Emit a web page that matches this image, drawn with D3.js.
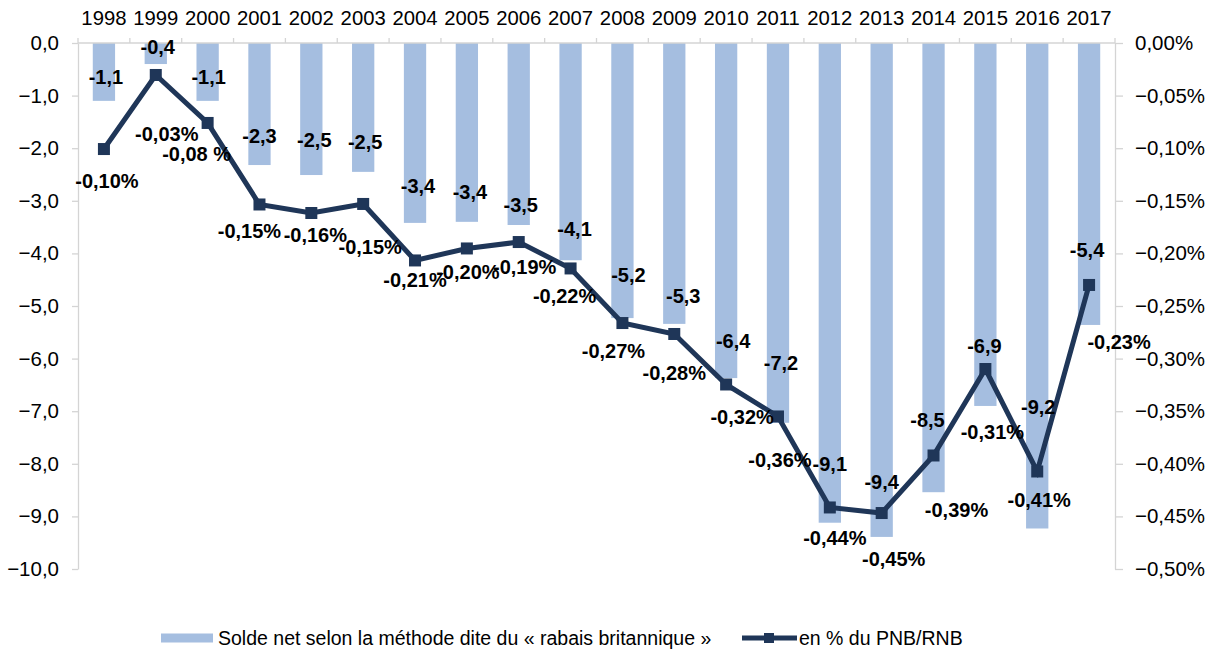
<!DOCTYPE html>
<html>
<head>
<meta charset="utf-8">
<script src="https://cdn.jsdelivr.net/npm/d3@7"></script>
<style>
  body { margin: 0; background: #fff; }
  svg text { font-family: "Liberation Sans", Arial, sans-serif; fill: #000; }
  .domain, .tick line { stroke: #d4d4d4; stroke-width: 1.3; }
</style>
</head>
<body>
<div id="chart"></div>
<script>
// années
const years = ["1998","1999","2000","2001","2002","2003","2004","2005","2006","2007",
               "2008","2009","2010","2011","2012","2013","2014","2015","2016","2017"];
// solde net (Md€)
const solde = [-1.1,-0.4,-1.1,-2.32,-2.51,-2.45,-3.42,-3.4,-3.46,-4.13,
               -5.23,-5.34,-6.37,-7.22,-9.12,-9.39,-8.54,-6.9,-9.23,-5.36];
const soldeLabels = ["-1,1","-0,4","-1,1","-2,3","-2,5","-2,5","-3,4","-3,4","-3,5","-4,1",
                     "-5,2","-5,3","-6,4","-7,2","-9,1","-9,4","-8,5","-6,9","-9,2","-5,4"];
// en % du PNB/RNB (valeurs déjà en points de %)
const pct = [-0.1008,-0.0304,-0.076,-0.1535,-0.1616,-0.153,-0.2067,-0.1953,-0.1892,-0.2143,
             -0.2662,-0.2766,-0.3246,-0.355,-0.4415,-0.4468,-0.3921,-0.3099,-0.4073,-0.23];
const pctLabels = ["-0,10%","-0,03%","-0,08 %","-0,15%","-0,16%","-0,15%","-0,21%","-0,20%","-0,19%","-0,22%",
                   "-0,27%","-0,28%","-0,32%","-0,36%","-0,44%","-0,45%","-0,39%","-0,31%","-0,41%","-0,23%"];
const leftTicks = [0,-1,-2,-3,-4,-5,-6,-7,-8,-9,-10];
const rightTicks = [0,-0.05,-0.1,-0.15,-0.2,-0.25,-0.3,-0.35,-0.4,-0.45,-0.5];
const legendNames = ["Solde net selon la méthode dite du « rabais britannique »", "en % du PNB/RNB"];

// décalages manuels des étiquettes (px), comme dans le graphique Excel
const soldeLabelOffset = [[2,-24],[2,-17],[1,-24],[0,-29],[3,-35],[2,-30],[3,-37],[3,-30],[2,-20],[4,-31],
                          [6,-43],[9,-28],[7,-37],[3,-60],[0,-59],[0,-55],[-6,-72],[-1,-60],[1,-121],[-2,-75]];
const pctLabelOffset = [[3,32],[11,59],[-11,31],[-10,27],[4,22],[7,43],[0,20],[1,24],[6,25],[-6,28],
                        [-9,28],[0,39],[16,33],[2,44],[5,31],[12,46],[23,55],[7,63],[2,29],[30,57]];

const width = 1212, height = 651;
const plotLeft = 78, plotRight = 1115, plotTop = 43, plotBottom = 569;

const svg = d3.select("#chart").append("svg")
    .attr("width", width)
    .attr("height", height);

const loc = d3.formatLocale({decimal: ",", thousands: " ", grouping: [3], currency: ["", "€"]});
const f1 = loc.format(".1f");
const f2 = loc.format(".2f");

const x = d3.scaleBand().domain(years).range([plotLeft, plotRight]).paddingInner(0.57).paddingOuter(0.285);
const yL = d3.scaleLinear().domain([0, -10]).range([plotTop, plotBottom]);
const yR = d3.scaleLinear().domain([0, -0.5]).range([plotTop, plotBottom]);

// barres
svg.append("g")
    .selectAll("rect")
    .data(solde)
    .join("rect")
    .attr("x", (d, i) => x(years[i]))
    .attr("y", yL(0))
    .attr("width", x.bandwidth())
    .attr("height", d => yL(d) - yL(0))
    .attr("fill", "#a5bee0");

// axe gauche
const gL = svg.append("g")
    .attr("transform", `translate(${plotLeft},0)`)
    .call(d3.axisLeft(yL).tickValues(leftTicks).tickSize(6).tickPadding(13)
        .tickFormat(f1).tickSizeOuter(0));
gL.selectAll("text").style("font-size", "20.5px");

// axe droit
const gR = svg.append("g")
    .attr("transform", `translate(${plotRight},0)`)
    .call(d3.axisRight(yR).tickValues(rightTicks).tickSize(8).tickPadding(12)
        .tickFormat(d => f2(d) + "%").tickSizeOuter(0));
gR.selectAll("text").style("font-size", "20.5px");

// axe du haut : ligne + graduations entre catégories
const gT = svg.append("g")
    .attr("transform", `translate(0,${plotTop})`)
    .call(d3.axisTop(x).tickSize(0).tickPadding(18).tickSizeOuter(0));
gT.select(".domain").attr("d", `M${plotLeft},0H${plotRight}`);
gT.selectAll("text").style("font-size", "20.3px");
const step = x.step();
gT.selectAll(".sep")
    .data(d3.range(years.length + 1))
    .join("line")
    .attr("class", "sep")
    .attr("x1", i => plotLeft + i * step)
    .attr("x2", i => plotLeft + i * step)
    .attr("y1", 0)
    .attr("y2", -5)
    .attr("stroke", "#d4d4d4")
    .attr("stroke-width", 1.3);

// ligne %
const cx = i => x(years[i]) + x.bandwidth() / 2;
const line = d3.line().x((d, i) => cx(i)).y(d => yR(d));
svg.append("path")
    .datum(pct)
    .attr("d", line)
    .attr("fill", "none")
    .attr("stroke", "#1f3658")
    .attr("stroke-width", 5)
    .attr("stroke-linejoin", "miter");

svg.append("g")
    .selectAll("rect")
    .data(pct)
    .join("rect")
    .attr("x", (d, i) => cx(i) - 6)
    .attr("y", d => yR(d) - 6)
    .attr("width", 12)
    .attr("height", 12)
    .attr("fill", "#1f3658");

// étiquettes des barres
svg.append("g")
    .selectAll("text")
    .data(solde)
    .join("text")
    .attr("x", (d, i) => cx(i) + soldeLabelOffset[i][0])
    .attr("y", (d, i) => yL(d) + soldeLabelOffset[i][1])
    .attr("dy", "0.35em")
    .attr("text-anchor", "middle")
    .style("font-size", "20px")
    .style("font-weight", "bold")
    .text((d, i) => soldeLabels[i]);

// étiquettes de la ligne
svg.append("g")
    .selectAll("text")
    .data(pct)
    .join("text")
    .attr("x", (d, i) => cx(i) + pctLabelOffset[i][0])
    .attr("y", (d, i) => yR(d) + pctLabelOffset[i][1])
    .attr("dy", "0.35em")
    .attr("text-anchor", "middle")
    .style("font-size", "20px")
    .style("font-weight", "bold")
    .text((d, i) => pctLabels[i]);

// légende
const lg = svg.append("g").attr("transform", "translate(0,638)");
lg.append("rect").attr("x", 161).attr("y", -4.5).attr("width", 52).attr("height", 9).attr("fill", "#a5bee0");
lg.append("text").attr("x", 218).attr("y", 0).attr("dy", "0.35em")
    .style("font-size", "19.5px").text(legendNames[0]);
lg.append("line").attr("x1", 742).attr("x2", 797).attr("y1", 0).attr("y2", 0)
    .attr("stroke", "#1f3658").attr("stroke-width", 5);
lg.append("rect").attr("x", 764).attr("y", -5).attr("width", 10).attr("height", 10).attr("fill", "#1f3658");
lg.append("text").attr("x", 799).attr("y", 0).attr("dy", "0.35em")
    .style("font-size", "19.5px").text(legendNames[1]);
</script>
</body>
</html>
